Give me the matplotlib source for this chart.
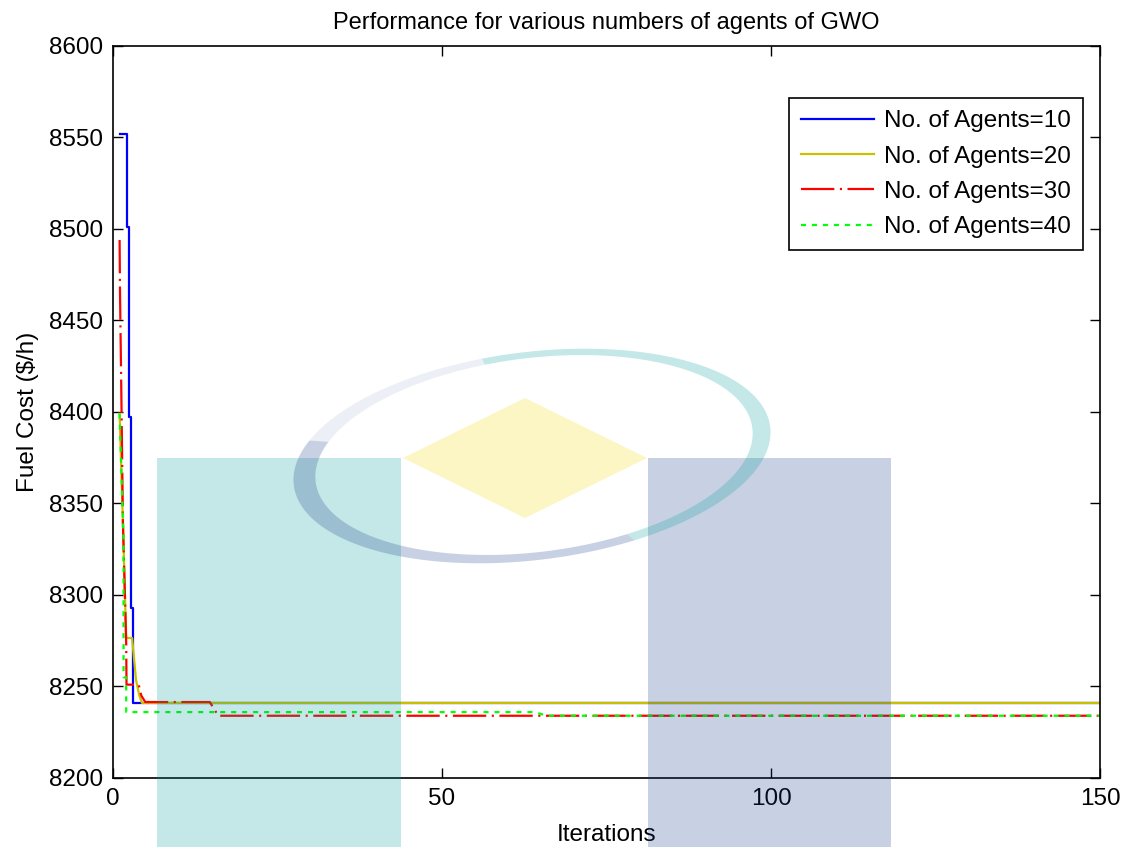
import numpy as np
import matplotlib
matplotlib.use("Agg")
from matplotlib import pyplot as plt
from matplotlib.patches import Rectangle, Polygon, PathPatch
from matplotlib.path import Path

plt.rcParams['font.family'] = ['Liberation Sans', 'DejaVu Sans']
plt.rcParams['lines.scale_dashes'] = False

# convergence curves (iteration, best fuel cost) at the corner points
it_10 = [1.0, 2.1, 2.1, 2.4, 2.4, 2.8, 2.8, 3.0, 3.0, 150]
cost_10 = [8552, 8552, 8501, 8501, 8397, 8397, 8293, 8293, 8241, 8241]

it_20 = [1.0, 1.5, 2.0, 2.9, 3.5, 4.0, 4.4, 150]
cost_20 = [8399, 8340, 8276.5, 8276.5, 8253.5, 8245, 8241, 8241]

it_30 = [1.0, 1.05, 1.3, 1.5, 2.0, 2.05, 3.9, 4.3, 4.9, 14.7, 16.0, 150]
cost_30 = [8494, 8469, 8400, 8340, 8274, 8251, 8251, 8245, 8241.5, 8241.5, 8234, 8234]

it_40 = [1.0, 1.6, 1.6, 2.0, 2.0, 64.0, 66.0, 150]
cost_40 = [8399, 8330, 8255, 8255, 8236, 8236, 8234, 8234]

labels = ["No. of Agents=10", "No. of Agents=20", "No. of Agents=30", "No. of Agents=40"]

fs = 17.5
fig = plt.figure(figsize=(11.28, 8.47), dpi=100)
ax = fig.add_axes([0.1002, 0.0815, 0.875, 0.8642])

ax.plot(it_10, cost_10, color='#0000ff', lw=1.6, label=labels[0])
ax.plot(it_20, cost_20, color='#c8c000', lw=1.6, label=labels[1])
ax.plot(it_30, cost_30, color='#ff0000', lw=1.6, dashes=(24, 4, 1.5, 4), label=labels[2])
ax.plot(it_40, cost_40, color='#00ff00', lw=1.6, dashes=(3.6, 4.3), label=labels[3])

ax.set_xlim(0, 150)
ax.set_ylim(8200, 8600)
ax.set_xticks([0, 50, 100, 150])
ax.set_yticks(np.arange(8200, 8601, 50))
ax.tick_params(direction='in', length=7, width=1, top=True, right=True,
               labelsize=fs, pad=7)
for s in ax.spines.values():
    s.set_linewidth(1.2)

ax.set_title("Performance for various numbers of agents of GWO", fontsize=fs - 0.5, pad=12)
ax.set_xlabel("Iterations", fontsize=fs, labelpad=10)
ax.set_ylabel("Fuel Cost (\\$/h)", fontsize=fs, labelpad=7)

leg = ax.legend(loc='upper right', bbox_to_anchor=(0.9828, 0.929), borderaxespad=0,
                fontsize=fs, handlelength=3.0, handletextpad=0.4,
                fancybox=False, framealpha=1, edgecolor='black',
                labelspacing=0.55, borderpad=0.5)
leg.get_frame().set_linewidth(1.2)

# faint logo stamped across the figure
W, H = 1128, 847
def fx(x):
    return x / W
def fy(y):
    return 1 - y / H

stamp = dict(transform=fig.transFigure, zorder=10, alpha=0.23, lw=0)
fig.patches.append(Rectangle((fx(157), 0), (401 - 157) / W, fy(458), color='#009b9b', **stamp))
fig.patches.append(Rectangle((fx(648), 0), (891 - 648) / W, fy(458), color='#143c8a', **stamp))
fig.patches.append(Polygon([(fx(403), fy(458)), (fx(525), fy(398)), (fx(647), fy(458)),
                            (fx(525), fy(518))], closed=True, color='#f6d400', **stamp))

# tilted ring, thick at the sides and thin at top and bottom
t = np.linspace(0, 2 * np.pi, 200)
rot = np.deg2rad(-7)
def ellipse(cx, cy, a, b):
    x, y = a * np.cos(t), b * np.sin(t)
    return np.column_stack([cx + x * np.cos(rot) - y * np.sin(rot),
                            cy + x * np.sin(rot) + y * np.cos(rot)])
outer = ellipse(532, 456, 240, 104)
inner = ellipse(534, 455, 220, 97)[::-1]
verts = np.vstack([outer, inner])
verts = np.column_stack([verts[:, 0] / W, 1 - verts[:, 1] / H])
codes = ([Path.MOVETO] + [Path.LINETO] * (len(outer) - 1)
         + [Path.MOVETO] + [Path.LINETO] * (len(inner) - 1))
ring = Path(verts, codes)
c0 = (532, 456)
parts = [
    ('#009b9b', 0.23, [c0, (297, 0), (1128, 0), (1128, 847), (1007, 847)]),
    ('#143c8a', 0.23, [c0, (1007, 847), (0, 847), (0, 419)]),
    ('#143c8a', 0.08, [c0, (0, 419), (0, 0), (297, 0)]),
]
for col, a, clip in parts:
    p = PathPatch(ring, color=col, transform=fig.transFigure, zorder=10, alpha=a, lw=0)
    c = Polygon([(fx(x), fy(y)) for x, y in clip], closed=True,
                transform=fig.transFigure, visible=False)
    fig.patches.append(c)
    p.set_clip_path(c)
    fig.patches.append(p)

plt.savefig("out.png", dpi=100)
